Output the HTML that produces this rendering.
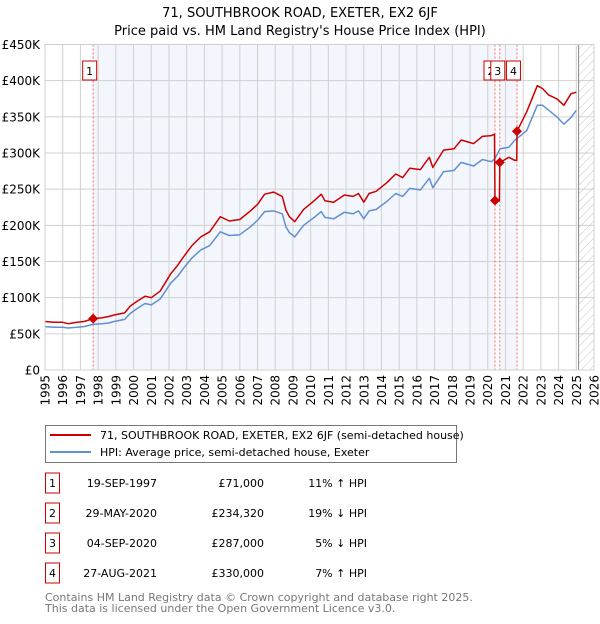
<!DOCTYPE html>
<html><head><meta charset="utf-8">
<style>
body{margin:0;background:#fff;font-family:"DejaVu Sans","Liberation Sans",sans-serif;}
svg text{font-family:"DejaVu Sans","Liberation Sans",sans-serif;}
</style></head>
<body>
<svg id="chart" width="600" height="620" xmlns="http://www.w3.org/2000/svg">
<defs>
<pattern id="hatch" patternUnits="userSpaceOnUse" width="6" height="6" patternTransform="rotate(45)">
<line x1="0" y1="0" x2="0" y2="6" stroke="#c4c4c4" stroke-width="1"/>
</pattern>
</defs>
<text x="300" y="17" text-anchor="middle" font-size="13">71, SOUTHBROOK ROAD, EXETER, EX2 6JF</text>
<text x="300" y="35" text-anchor="middle" font-size="13">Price paid vs. HM Land Registry's House Price Index (HPI)</text>
<g id="plot"></g>
<g>
<rect x="45.5" y="425.5" width="411" height="37" fill="#fff" stroke="#777"/>
<line x1="50" y1="435" x2="91" y2="435" stroke="#cc0000" stroke-width="2"/>
<text x="100" y="439" font-size="11">71, SOUTHBROOK ROAD, EXETER, EX2 6JF (semi-detached house)</text>
<line x1="50" y1="452" x2="91" y2="452" stroke="#6090d0" stroke-width="2"/>
<text x="100" y="456" font-size="11">HPI: Average price, semi-detached house, Exeter</text>
</g>
<g id="table"></g>
<text x="45" y="601" font-size="11" fill="#777">Contains HM Land Registry data © Crown copyright and database right 2025.</text>
<text x="45" y="612" font-size="11" fill="#777">This data is licensed under the Open Government Licence v3.0.</text>
</svg>
<script>
const hpiYears=[1995.0,1995.5,1996.0,1996.3,1996.8,1997.2,1997.7,1998.2,1998.6,1998.9,1999.5,1999.8,2000.2,2000.65,2001.0,2001.5,2002.1,2002.5,2002.9,2003.3,2003.8,2004.3,2004.9,2005.4,2006.0,2006.6,2007.0,2007.4,2007.9,2008.4,2008.6,2008.8,2009.1,2009.6,2010.2,2010.6,2010.8,2011.3,2011.9,2012.4,2012.7,2013.0,2013.3,2013.7,2014.3,2014.8,2015.2,2015.6,2016.2,2016.7,2016.9,2017.5,2018.1,2018.5,2019.2,2019.7,2020.2,2020.4,2020.7,2021.2,2021.5,2022.2,2022.8,2023.1,2023.45,2023.9,2024.3,2024.7,2025.0];
const hpiValues=[60,59,59,58,59,60,63,64,65,67,70,78,85,92,90,98,120,130,143,155,166,172,191,186,187,198,207,219,220,216,198,190,184,200,211,219,211,209,218,216,220,209,220,222,233,244,240,251,249,265,252,274,276,287,282,291,288,292,306,308,317,331,366,366,359,350,340,349,359];
const propYears=[1995.0,1995.5,1996.0,1996.3,1996.8,1997.2,1997.72,1998.2,1998.6,1998.9,1999.5,1999.8,2000.2,2000.65,2001.0,2001.5,2002.1,2002.5,2002.9,2003.3,2003.8,2004.3,2004.9,2005.4,2006.0,2006.6,2007.0,2007.4,2007.9,2008.4,2008.6,2008.8,2009.1,2009.6,2010.2,2010.6,2010.8,2011.3,2011.9,2012.4,2012.7,2013.0,2013.3,2013.7,2014.3,2014.8,2015.2,2015.6,2016.2,2016.7,2016.9,2017.5,2018.1,2018.5,2019.2,2019.7,2020.2,2020.38,2020.41,2020.66,2020.68,2021.2,2021.5,2021.64,2021.65,2022.2,2022.8,2023.1,2023.45,2023.9,2024.3,2024.7,2025.0];
const propValues=[67,66,66,64,66,67,71,72,74,76,79,88,95,102,100,109,133,145,159,172,184,191,212,206,208,220,229,243,246,240,221,212,205,222,234,243,234,232,242,240,244,232,244,247,259,271,266,279,277,294,280,304,306,318,313,323,324,326,234,234,287,294,290,290,330,357,393,389,380,375,366,382,384];
const saleIds=["1","2","3","4"];
const saleDates=[1997.72,2020.41,2020.68,2021.65];
const salePrices=[71000,234320,287000,330000];
const saleDateLabels=["19-SEP-1997","29-MAY-2020","04-SEP-2020","27-AUG-2021"];
const salePriceLabels=["£71,000","£234,320","£287,000","£330,000"];
const saleHpiLabels=["11% ↑ HPI","19% ↓ HPI","5% ↓ HPI","7% ↑ HPI"];
const yTicks=[0,50,100,150,200,250,300,350,400,450];
const yTickLabels=["£0","£50K","£100K","£150K","£200K","£250K","£300K","£350K","£400K","£450K"];
const xTicks=[1995,1996,1997,1998,1999,2000,2001,2002,2003,2004,2005,2006,2007,2008,2009,2010,2011,2012,2013,2014,2015,2016,2017,2018,2019,2020,2021,2022,2023,2024,2025,2026];
const dataEnd=2025.13;

const NS="http://www.w3.org/2000/svg";
const L=45,R=594,T=44.5,B=370;
const xs=y=>L+(y-1995)/(2026-1995)*(R-L);
const ys=v=>B-v/450*(B-T);
const plot=document.getElementById('plot');
function mk(tag,attrs,parent){const e=document.createElementNS(NS,tag);for(const k in attrs)e.setAttribute(k,attrs[k]);(parent||plot).appendChild(e);return e;}

let s=mk('rect',{x:xs(saleDates[0]),y:T,width:xs(saleDates[1])-xs(saleDates[0]),height:B-T,fill:'#f3f6fd'});


s=mk('rect',{x:xs(saleDates[2]),y:T,width:xs(saleDates[3])-xs(saleDates[2]),height:B-T,fill:'#f3f6fd'});


s=mk('rect',{x:xs(dataEnd),y:T,width:R-xs(dataEnd),height:B-T,fill:'url(#hatch)'});



yTicks.forEach((v,i)=>{
 const g=mk('line',{x1:L,x2:R,y1:ys(v),y2:ys(v),stroke:'#d0d0d0','stroke-width':1});
 
 
 const t=mk('text',{x:40,y:ys(v)+4.5,'text-anchor':'end','font-size':12});
 t.textContent=yTickLabels[i];
 
 
});
xTicks.forEach(yr=>{
 const g=mk('line',{x1:xs(yr),x2:xs(yr),y1:T,y2:B,stroke:'#d0d0d0','stroke-width':1});
 
 
 const t=mk('text',{x:0,y:0,'text-anchor':'end','font-size':12,transform:`translate(${xs(yr)+4.5},${B+5}) rotate(-90)`});
 t.textContent=yr;
 
 
});
let dl=mk('line',{x1:xs(dataEnd),x2:xs(dataEnd),y1:T,y2:B,stroke:'#888','stroke-width':1});



saleDates.forEach(d=>{
 const l=mk('line',{x1:xs(d),x2:xs(d),y1:T,y2:B,stroke:'#ff6666','stroke-width':1,'stroke-dasharray':'2,2'});
 
 
});

function path(xa,va){return xa.map((x,i)=>(i?'L':'M')+xs(x).toFixed(1)+','+ys(va[i]).toFixed(1)).join('');}
let hp=mk('path',{d:path(hpiYears,hpiValues),fill:'none',stroke:'#6090d0','stroke-width':1.5,'stroke-linejoin':'round'});


let pp=mk('path',{d:path(propYears,propValues),fill:'none',stroke:'#cc0000','stroke-width':1.5,'stroke-linejoin':'round'});



const boxOff=[-3.5,-4,-2,-3.5];
saleDates.forEach((d,i)=>{
 const cx=xs(d),cy=ys(salePrices[i]/1000);
 const p=mk('path',{d:`M${cx},${cy-5}L${cx+5},${cy}L${cx},${cy+5}L${cx-5},${cy}Z`,fill:'#cc0000'});
 
 
 const bx=cx+boxOff[i];
 const r=mk('rect',{x:bx-7,y:61,width:14,height:19,fill:'#fff',stroke:'#cc0000','stroke-width':1});
 
 
 const t=mk('text',{x:bx,y:75,'text-anchor':'middle','font-size':11});
 t.textContent=saleIds[i];
 
 
});
let fr=mk('rect',{x:L,y:T,width:R-L,height:B-T,fill:'none',stroke:'#d0d0d0'});



const tb=document.getElementById('table');
saleIds.forEach((id,i)=>{
 const cy=483+i*30;
 const r=mk('rect',{x:45.5,y:cy-10,width:14,height:20,fill:'#fff',stroke:'#cc0000'},tb);
 
 
 const a=mk('text',{x:52.5,y:cy+4,'text-anchor':'middle','font-size':11},tb);a.textContent=id;
 
 
 const b=mk('text',{x:157,y:cy+4,'text-anchor':'end','font-size':11},tb);b.textContent=saleDateLabels[i];
 
 
 const c=mk('text',{x:264,y:cy+4,'text-anchor':'end','font-size':11},tb);c.textContent=salePriceLabels[i];
 
 
 const d=mk('text',{x:367,y:cy+4,'text-anchor':'end','font-size':11},tb);d.textContent=saleHpiLabels[i];
 
 
});
</script>
</body></html>
